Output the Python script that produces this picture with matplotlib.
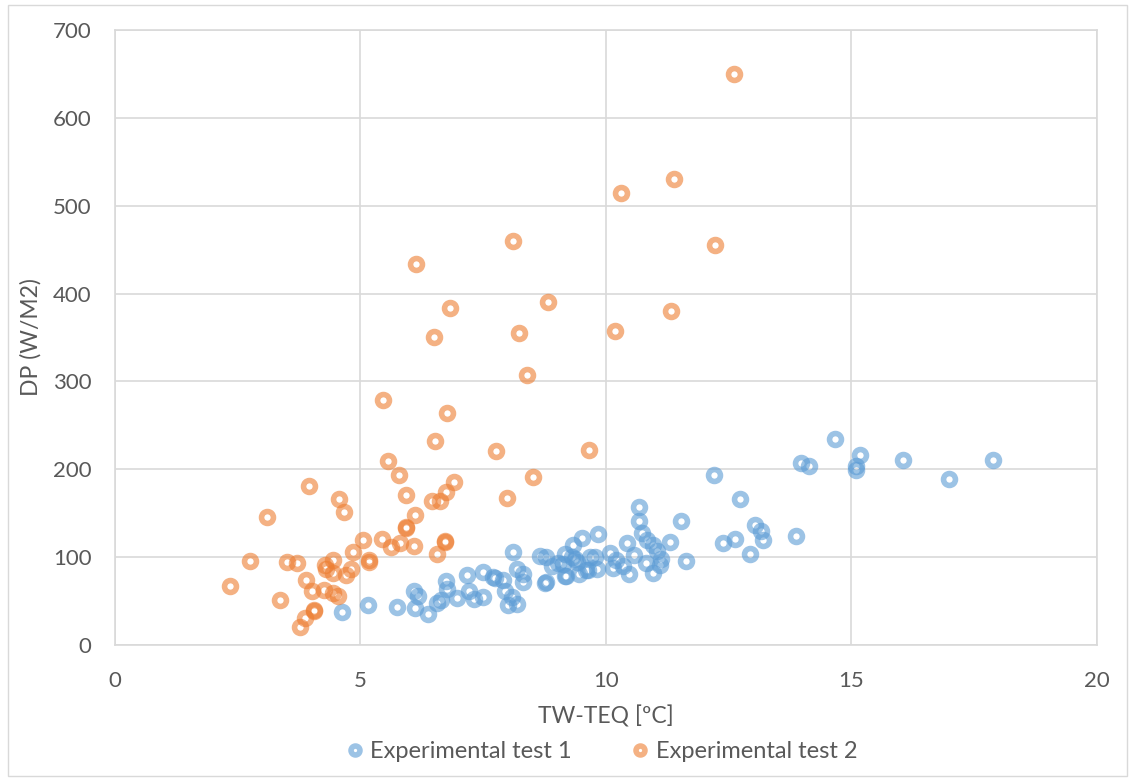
import numpy as np
import matplotlib.pyplot as plt

# Experimental test 1 (blue)
t1_x = [4.62, 5.16, 5.75, 6.09, 6.18, 6.11, 6.37, 6.55, 6.65, 6.74, 6.76, 6.96,
        7.17, 7.22, 7.32, 7.49, 7.49, 7.70, 7.74, 7.90, 7.94, 8.00, 8.08, 8.18,
        8.18, 8.30, 8.30, 8.11, 8.66, 8.78, 8.76, 8.78, 9.03, 9.13, 9.17, 9.19,
        9.17, 9.30, 9.33, 9.37, 9.45, 9.52, 9.64, 9.67, 9.78, 9.82, 9.84, 10.08,
        10.14, 10.35, 10.43, 10.46, 10.58, 10.67, 10.67, 10.73, 10.81, 10.83, 10.96,
        10.96, 11.03, 11.10, 11.13, 11.30, 11.53, 11.62, 12.19, 12.38, 12.63, 12.73,
        12.93, 13.03, 13.15, 13.20, 13.86, 13.97, 14.14, 14.66, 15.09, 15.10, 15.17,
        16.04, 16.99, 17.89, 9.40, 9.60, 10.20, 8.90]
t1_y = [38, 46, 43, 62, 56, 42, 35, 48, 51, 73, 64, 54,
        80, 62, 52, 83, 55, 77, 76, 74, 62, 46, 55, 47,
        86, 81, 72, 106, 101, 100, 71, 72, 93, 92, 78, 79,
        104, 100, 114, 98, 81, 122, 85, 100, 100, 87, 126, 105,
        88, 90, 116, 81, 102, 157, 141, 128, 93, 119, 114,
        82, 107, 91, 98, 117, 141, 96, 194, 116, 121, 166,
        104, 137, 130, 119, 124, 207, 204, 234, 204, 199, 216,
        211, 189, 211, 95, 85, 97, 90]

# Experimental test 2 (orange)
t2_x = [12.61, 10.31, 11.38, 8.11, 12.22, 6.14, 8.82, 6.82, 11.32, 8.22, 10.19,
        6.50, 8.40, 5.45, 6.76, 6.52, 7.77, 9.65, 5.57, 5.78, 3.96, 5.93, 4.56,
        7.98, 8.51, 6.91, 6.75, 4.67, 6.45, 6.62, 6.11, 3.09, 5.92, 5.92, 6.73,
        6.73, 6.55, 6.08, 5.80, 5.62, 5.44, 5.06, 4.85, 5.18, 5.18, 2.75, 3.50,
        3.70, 2.34, 3.36, 3.90, 4.02, 4.28, 4.45, 4.30, 4.45, 4.70, 4.80, 4.26,
        4.45, 4.55, 4.06, 4.06, 3.86, 3.77]
t2_y = [650, 515, 530, 460, 455, 434, 390, 384, 380, 355, 357,
        351, 307, 279, 264, 232, 221, 222, 209, 194, 181, 171, 166,
        167, 191, 186, 174, 151, 164, 164, 148, 146, 133, 134, 118,
        117, 104, 113, 116, 112, 121, 120, 106, 97, 95, 96, 94,
        93, 67, 51, 74, 61, 91, 97, 87, 82, 80, 87, 63,
        59, 56, 40, 39, 31, 21]

TXT = "#595959"
GRID = "#D9D9D9"

fig = plt.figure(figsize=(11.35, 7.8), dpi=100)
fig.patches.append(plt.Rectangle((0.007, 0.005), 0.986, 0.988, transform=fig.transFigure,
                                 fill=False, edgecolor=GRID, linewidth=1))
ax = fig.add_axes([0.1013, 0.1731, 0.8652, 0.7884])

mk = dict(linestyle="none", marker="o", markersize=8.6, markeredgewidth=4.0,
          markerfacecolor="none", alpha=0.6)
ax.plot(t1_x, t1_y, color="#5B9BD5", label="Experimental test 1", **mk)
ax.plot(t2_x, t2_y, color="#ED7D31", label="Experimental test 2", **mk)

ax.set_xlim(0, 20)
ax.set_ylim(0, 700)
ax.set_xticks(np.arange(0, 21, 5))
ax.set_yticks(np.arange(0, 701, 100))
ax.grid(True, color=GRID, linewidth=1.2)
ax.set_axisbelow(True)
for s in ax.spines.values():
    s.set_color(GRID)
    s.set_linewidth(1.2)
ax.tick_params(length=0, labelsize=16, colors=TXT)
ax.tick_params(axis="x", pad=19)
ax.tick_params(axis="y", pad=17)
for lab in ax.get_xticklabels() + ax.get_yticklabels():
    lab.set_family("Lato")

ax.set_xlabel("TW-TEQ [ºC]", fontsize=16.5, color=TXT, family="Lato")
ax.xaxis.set_label_coords(0.5, -0.098)
ax.set_ylabel("DP (W/M2)", fontsize=16.5, color=TXT, family="Lato")
ax.yaxis.set_label_coords(-0.075, 0.5)

leg = ax.legend(loc="center", bbox_to_anchor=(0.494, -0.174), ncol=2, frameon=False,
                prop={"family": "Lato", "size": 17}, markerscale=0.75, handletextpad=0.15,
                columnspacing=2.4, handlelength=1.0, borderpad=0)
for t in leg.get_texts():
    t.set_color(TXT)

fig.savefig("out.png", dpi=100)
